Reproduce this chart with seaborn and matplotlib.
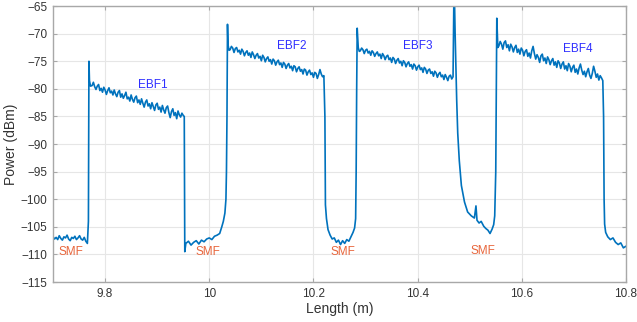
import matplotlib
matplotlib.use("Agg")
import matplotlib.pyplot as plt
import seaborn as sns
import pandas as pd
import numpy as np

# ---- data (length in m, power in dBm) ----
smf1_len = [9.700, 9.703, 9.706, 9.709, 9.712, 9.715, 9.718, 9.721, 9.724, 9.727, 9.730, 9.733,
            9.736, 9.739, 9.742, 9.745, 9.748, 9.751, 9.754, 9.757, 9.760, 9.763, 9.766,
            9.768, 9.769, 9.770, 9.772]
smf1_pow = [-106.8, -107.2, -106.9, -107.3, -106.6, -107.1, -107.4, -106.8, -107.0, -106.5, -107.2, -107.5,
            -106.9, -107.1, -106.7, -107.3, -107.0, -106.6, -107.2, -107.4, -106.9, -107.6, -108.0,
            -104.0, -75.0, -78.5, -79.5]

# EBF sections: evenly sampled trace between start and end length
ebf1_range = (9.775, 9.950)
ebf1_pow = [-79.4, -78.8, -79.6, -80.1, -79.5, -79.2, -80.3, -79.9, -80.6, -79.7,
            -80.2, -81.0, -80.3, -79.8, -80.7, -80.4, -81.1, -80.2, -80.9, -81.4,
            -80.6, -80.3, -81.5, -80.9, -81.7, -81.2, -80.6, -81.8, -81.5, -82.2,
            -81.1, -81.9, -82.4, -81.6, -81.3, -82.5, -82.0, -82.8, -81.8, -82.6,
            -83.3, -82.4, -82.0, -83.1, -82.7, -83.6, -82.5, -83.2, -83.9, -82.9,
            -82.6, -83.7, -83.3, -84.2, -83.0, -83.8, -84.4, -83.4, -83.1, -84.3,
            -85.2, -84.1, -83.6, -84.8, -84.3, -85.4, -84.0, -84.7, -85.1, -84.4,
            -84.8]

smf2_len = [9.952, 9.953, 9.955, 9.960, 9.965, 9.970, 9.975, 9.980, 9.985, 9.990, 9.995, 10.000,
            10.005, 10.010, 10.015, 10.020, 10.024, 10.027, 10.030, 10.032, 10.033, 10.034, 10.035,
            10.036, 10.038]
smf2_pow = [-85.0, -109.5, -108.0, -107.6, -108.3, -107.8, -107.5, -108.1, -107.4, -107.7, -107.2, -107.0,
            -107.3, -106.7, -106.5, -106.2, -105.0, -104.0, -102.5, -100.0, -95.0, -85.0, -68.3,
            -72.0, -73.0]

ebf2_range = (10.040, 10.220)
ebf2_pow = [-72.9, -72.3, -72.6, -73.4, -72.7, -72.5, -73.3, -73.0, -73.7, -72.8,
            -73.2, -74.0, -73.4, -73.1, -73.9, -73.5, -74.3, -73.3, -73.8, -74.5,
            -73.9, -73.6, -74.4, -74.1, -74.9, -73.9, -74.3, -75.1, -74.5, -74.2,
            -75.0, -74.7, -75.5, -74.6, -74.9, -75.7, -75.1, -74.8, -75.6, -75.3,
            -76.1, -75.2, -75.5, -76.3, -75.7, -75.4, -76.2, -75.9, -76.7, -75.8,
            -76.0, -76.9, -76.3, -76.0, -76.8, -76.5, -77.3, -76.4, -76.6, -77.5,
            -76.9, -76.6, -77.4, -77.1, -77.9, -77.0, -77.2, -78.1, -77.4, -76.5,
            -77.3, -77.8, -77.6]

smf3_len = [10.222, 10.223, 10.225, 10.228, 10.232, 10.236, 10.240, 10.244, 10.248, 10.252, 10.256,
            10.260, 10.264, 10.268, 10.272, 10.276, 10.279, 10.281, 10.282, 10.283, 10.284, 10.286,
            10.288]
smf3_pow = [-85.0, -101.0, -103.5, -105.5, -106.5, -107.2, -107.0, -107.8, -107.4, -108.2, -107.5,
            -108.0, -107.3, -107.6, -106.8, -106.0, -105.2, -103.5, -95.0, -80.0, -69.0, -72.5,
            -73.2]

ebf3_range = (10.290, 10.468)
ebf3_pow = [-73.1, -72.6, -72.9, -73.6, -73.0, -72.8, -73.5, -73.2, -73.9, -73.1,
            -73.4, -74.1, -73.6, -73.3, -74.0, -73.7, -74.5, -73.6, -74.0, -74.7,
            -74.1, -73.9, -74.7, -74.4, -75.2, -74.3, -74.6, -75.4, -74.8, -74.5,
            -75.3, -75.0, -75.8, -74.9, -75.2, -76.0, -75.4, -75.1, -75.9, -75.6,
            -76.4, -75.5, -75.8, -76.6, -76.0, -75.7, -76.5, -76.2, -77.0, -76.1,
            -76.4, -77.2, -76.6, -76.4, -77.2, -76.9, -77.7, -76.8, -77.1, -77.9,
            -77.3, -77.0, -77.8, -77.5, -78.3, -77.4, -77.9, -78.5, -77.7, -77.5,
            -78.2, -77.8]

smf4_len = [10.470, 10.472, 10.475, 10.477, 10.480, 10.484, 10.490, 10.496, 10.503, 10.509, 10.512,
            10.514, 10.518, 10.522, 10.527, 10.531, 10.535, 10.539, 10.543, 10.546, 10.548, 10.550,
            10.551, 10.552, 10.554]
smf4_pow = [-60.0, -70.0, -82.0, -88.0, -93.0, -97.5, -100.5, -102.3, -103.0, -103.4, -101.2,
            -103.8, -104.3, -104.0, -104.9, -105.3, -105.6, -106.2, -105.4, -104.6, -103.0, -95.0,
            -80.0, -67.2, -72.5]

ebf4_range = (10.556, 10.7555)
ebf4_pow = [-72.2, -71.4, -71.9, -72.8, -71.6, -71.3, -72.5, -72.0, -73.1, -71.9,
            -72.4, -73.3, -72.5, -72.1, -73.4, -72.8, -73.7, -72.6, -73.0, -74.0,
            -73.2, -72.9, -74.1, -73.5, -74.4, -73.1, -72.3, -73.6, -74.6, -73.8,
            -74.3, -75.2, -74.0, -73.7, -74.9, -74.4, -75.4, -74.2, -74.7, -75.6,
            -74.9, -74.5, -75.7, -75.1, -76.1, -74.9, -75.3, -76.3, -75.5, -75.1,
            -76.4, -75.8, -76.7, -75.4, -75.9, -76.9, -76.1, -75.7, -77.0, -76.4,
            -77.3, -76.2, -75.5, -76.6, -77.4, -76.8, -77.8, -76.9, -76.3, -77.5,
            -78.1, -77.2, -75.9, -76.8, -77.9, -77.3, -78.4, -77.6, -78.0, -78.5]

smf5_len = [10.757, 10.758, 10.759, 10.761, 10.765, 10.770, 10.775, 10.780, 10.785, 10.790, 10.795,
            10.800, 10.805]
smf5_pow = [-85.0, -100.0, -104.5, -106.0, -106.8, -107.3, -107.0, -107.8, -108.2, -107.9, -108.8,
            -108.5, -109.0]

ebf_labels = ["EBF1", "EBF2", "EBF3", "EBF4"]
ebf_label_x = [9.892, 10.158, 10.400, 10.707]
ebf_label_y = [-79.3, -72.3, -72.3, -72.8]
smf_labels = ["SMF", "SMF", "SMF", "SMF"]
smf_label_x = [9.734, 9.997, 10.257, 10.525]
smf_label_y = [-109.6, -109.6, -109.6, -109.3]

x_ticks = [9.8, 10.0, 10.2, 10.4, 10.6, 10.8]
x_tick_labels = ["9.8", "10", "10.2", "10.4", "10.6", "10.8"]
y_ticks = [-115, -110, -105, -100, -95, -90, -85, -80, -75, -70, -65]


def section(rng, pw):
    return list(np.linspace(rng[0], rng[1], len(pw))), pw


ebf1_len, _ = section(ebf1_range, ebf1_pow)
ebf2_len, _ = section(ebf2_range, ebf2_pow)
ebf3_len, _ = section(ebf3_range, ebf3_pow)
ebf4_len, _ = section(ebf4_range, ebf4_pow)

# ---- build the trace ----
length = (smf1_len + ebf1_len + smf2_len + ebf2_len + smf3_len + ebf3_len
          + smf4_len + ebf4_len + smf5_len)
power = (smf1_pow + ebf1_pow + smf2_pow + ebf2_pow + smf3_pow + ebf3_pow
         + smf4_pow + ebf4_pow + smf5_pow)
df = pd.DataFrame({"Length": length, "Power": power})

sns.set_style("white")
plt.rcParams["font.family"] = ["Liberation Sans", "DejaVu Sans"]

fig = plt.figure(figsize=(6.37, 3.22), dpi=100)
ax = fig.add_axes([0.0832, 0.124, 0.8995, 0.857])

sns.lineplot(data=df, x="Length", y="Power", ax=ax, color="#0072BD",
             linewidth=1.2, estimator=None, sort=False)

ax.set_xlim(9.7, 10.8)
ax.set_ylim(-115, -65)
ax.set_xticks(x_ticks)
ax.set_xticklabels(x_tick_labels)
ax.set_yticks(y_ticks)
ax.grid(True, color="#e6e6e6", linewidth=0.8)
ax.set_axisbelow(True)
for s in ax.spines.values():
    s.set_color("#a8a8a8")
    s.set_linewidth(1.0)
ax.tick_params(direction="in", length=3, color="#a8a8a8", labelsize=8.5,
               labelcolor="#333333", top=True, right=True, bottom=True, left=True,
               labeltop=False, labelright=False, pad=4)
ax.set_xlabel("Length (m)", fontsize=10, color="#333333", labelpad=2)
ax.set_ylabel("Power (dBm)", fontsize=10, color="#333333", labelpad=2)

for t, x, y in zip(ebf_labels, ebf_label_x, ebf_label_y):
    ax.text(x, y, t, color="#2f2fff", fontsize=8.5, ha="center", va="center")
for t, x, y in zip(smf_labels, smf_label_x, smf_label_y):
    ax.text(x, y, t, color="#e8663c", fontsize=8.5, ha="center", va="center")

fig.savefig("out.png", dpi=100)
